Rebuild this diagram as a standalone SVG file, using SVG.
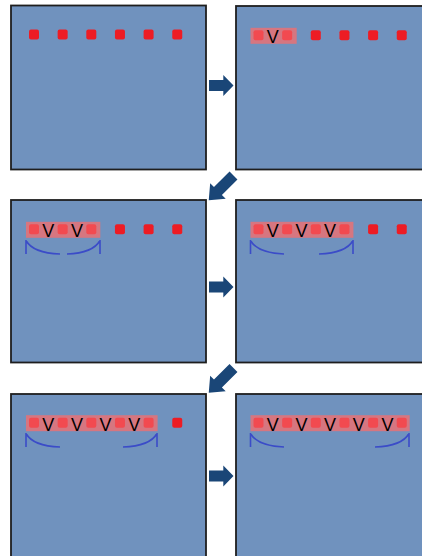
<svg xmlns="http://www.w3.org/2000/svg" width="422" height="556" viewBox="0 0 422 556">
<defs>
<style>
.panel{fill:#7092be;stroke:#1e1e1e;stroke-width:1.8}
.sq{fill:#ed1c24}
.lt{fill:#f24a50}
.hl{fill:#d67680}
.v{font-family:"Liberation Sans",Arial,sans-serif;font-size:18px;fill:#000;text-anchor:middle}
.br{fill:none;stroke:#3b4cc8;stroke-width:1.6}
.arr{fill:#1a4677}
</style>
<path id="ra" d="M0,-5.6 H14.3 V-10.6 L24.5,0 L14.3,10.6 V5.6 H0 Z"/>
<path id="da" d="M0,-5.6 H22 V-11 L35,0 L22,11 V5.6 H0 Z"/>
</defs>
<rect width="422" height="556" fill="#ffffff"/>

<g id="panel1">
<rect class="panel" x="11" y="5.5" width="195" height="164"/>
<rect class="sq" x="29" y="29.5" width="10" height="10" rx="2"/>
<rect class="sq" x="57.65" y="29.5" width="10" height="10" rx="2"/>
<rect class="sq" x="86.3" y="29.5" width="10" height="10" rx="2"/>
<rect class="sq" x="114.95" y="29.5" width="10" height="10" rx="2"/>
<rect class="sq" x="143.6" y="29.5" width="10" height="10" rx="2"/>
<rect class="sq" x="172.25" y="29.5" width="10" height="10" rx="2"/>
</g>

<g id="panel2">
<rect class="panel" x="236" y="6" width="200" height="163.5"/>
<rect class="hl" x="250.5" y="27.8" width="46.2" height="16"/>
<rect class="lt" x="253.5" y="30.3" width="10" height="10" rx="2"/>
<rect class="lt" x="282.15" y="30.3" width="10" height="10" rx="2"/>
<text class="v" x="272.8" y="43.3">V</text>
<rect class="sq" x="310.8" y="30.3" width="10" height="10" rx="2"/>
<rect class="sq" x="339.45" y="30.3" width="10" height="10" rx="2"/>
<rect class="sq" x="368.1" y="30.3" width="10" height="10" rx="2"/>
<rect class="sq" x="396.75" y="30.3" width="10" height="10" rx="2"/>
</g>

<g id="panel3">
<rect class="panel" x="11" y="200" width="195" height="162.5"/>
<rect class="hl" x="26" y="221.8" width="74.3" height="16"/>
<rect class="lt" x="29" y="224.3" width="10" height="10" rx="2"/>
<rect class="lt" x="57.65" y="224.3" width="10" height="10" rx="2"/>
<rect class="lt" x="86.3" y="224.3" width="10" height="10" rx="2"/>
<text class="v" x="48.3" y="237.3">V</text>
<text class="v" x="77" y="237.3">V</text>
<rect class="sq" x="114.95" y="224.3" width="10" height="10" rx="2"/>
<rect class="sq" x="143.6" y="224.3" width="10" height="10" rx="2"/>
<rect class="sq" x="172.25" y="224.3" width="10" height="10" rx="2"/>
<path class="br" d="M26,240 V254 M26,240.5 Q33,253 60,254 M100,240 V254 M100,240.5 Q93,253 67,254"/>
</g>

<g id="panel4">
<rect class="panel" x="236" y="200" width="200" height="162.5"/>
<rect class="hl" x="250.5" y="221.8" width="102.9" height="16"/>
<rect class="lt" x="253.5" y="224.3" width="10" height="10" rx="2"/>
<rect class="lt" x="282.15" y="224.3" width="10" height="10" rx="2"/>
<rect class="lt" x="310.8" y="224.3" width="10" height="10" rx="2"/>
<rect class="lt" x="339.45" y="224.3" width="10" height="10" rx="2"/>
<text class="v" x="272.8" y="237.3">V</text>
<text class="v" x="301.5" y="237.3">V</text>
<text class="v" x="330.1" y="237.3">V</text>
<rect class="sq" x="368.1" y="224.3" width="10" height="10" rx="2"/>
<rect class="sq" x="396.75" y="224.3" width="10" height="10" rx="2"/>
<path class="br" d="M250.5,240 V254 M250.5,240.5 Q257.5,253 284,254 M353,240 V254 M353,240.5 Q346,253 319,254"/>
</g>

<g id="panel5">
<rect class="panel" x="11" y="394" width="195" height="170"/>
<rect class="hl" x="26" y="415.2" width="131.6" height="16"/>
<rect class="lt" x="29" y="417.7" width="10" height="10" rx="2"/>
<rect class="lt" x="57.65" y="417.7" width="10" height="10" rx="2"/>
<rect class="lt" x="86.3" y="417.7" width="10" height="10" rx="2"/>
<rect class="lt" x="114.95" y="417.7" width="10" height="10" rx="2"/>
<rect class="lt" x="143.6" y="417.7" width="10" height="10" rx="2"/>
<text class="v" x="48.3" y="430.7">V</text>
<text class="v" x="77" y="430.7">V</text>
<text class="v" x="105.6" y="430.7">V</text>
<text class="v" x="134.3" y="430.7">V</text>
<rect class="sq" x="172.25" y="417.7" width="10" height="10" rx="2"/>
<path class="br" d="M26,433 V447 M26,433.5 Q33,446 60,447 M157,433 V447 M157,433.5 Q150,446 123,447"/>
</g>

<g id="panel6">
<rect class="panel" x="236" y="394" width="200" height="170"/>
<rect class="hl" x="250.5" y="415.2" width="159.2" height="16"/>
<rect class="lt" x="253.5" y="417.7" width="10" height="10" rx="2"/>
<rect class="lt" x="282.15" y="417.7" width="10" height="10" rx="2"/>
<rect class="lt" x="310.8" y="417.7" width="10" height="10" rx="2"/>
<rect class="lt" x="339.45" y="417.7" width="10" height="10" rx="2"/>
<rect class="lt" x="368.1" y="417.7" width="10" height="10" rx="2"/>
<rect class="lt" x="396.75" y="417.7" width="10" height="10" rx="2"/>
<text class="v" x="272.8" y="430.7">V</text>
<text class="v" x="301.5" y="430.7">V</text>
<text class="v" x="330.1" y="430.7">V</text>
<text class="v" x="358.8" y="430.7">V</text>
<text class="v" x="387.4" y="430.7">V</text>
<path class="br" d="M250.5,433 V447 M250.5,433.5 Q257.5,446 284,447 M409,433 V447 M409,433.5 Q402,446 375,447"/>
</g>

<g id="connectors">
<use href="#ra" class="arr" transform="translate(209,85.5)"/>
<use href="#da" class="arr" transform="translate(233.5,175.5) rotate(135)"/>
<use href="#ra" class="arr" transform="translate(209,287)"/>
<use href="#da" class="arr" transform="translate(233.5,368) rotate(135)"/>
<use href="#ra" class="arr" transform="translate(209,476)"/>
</g>
</svg>
